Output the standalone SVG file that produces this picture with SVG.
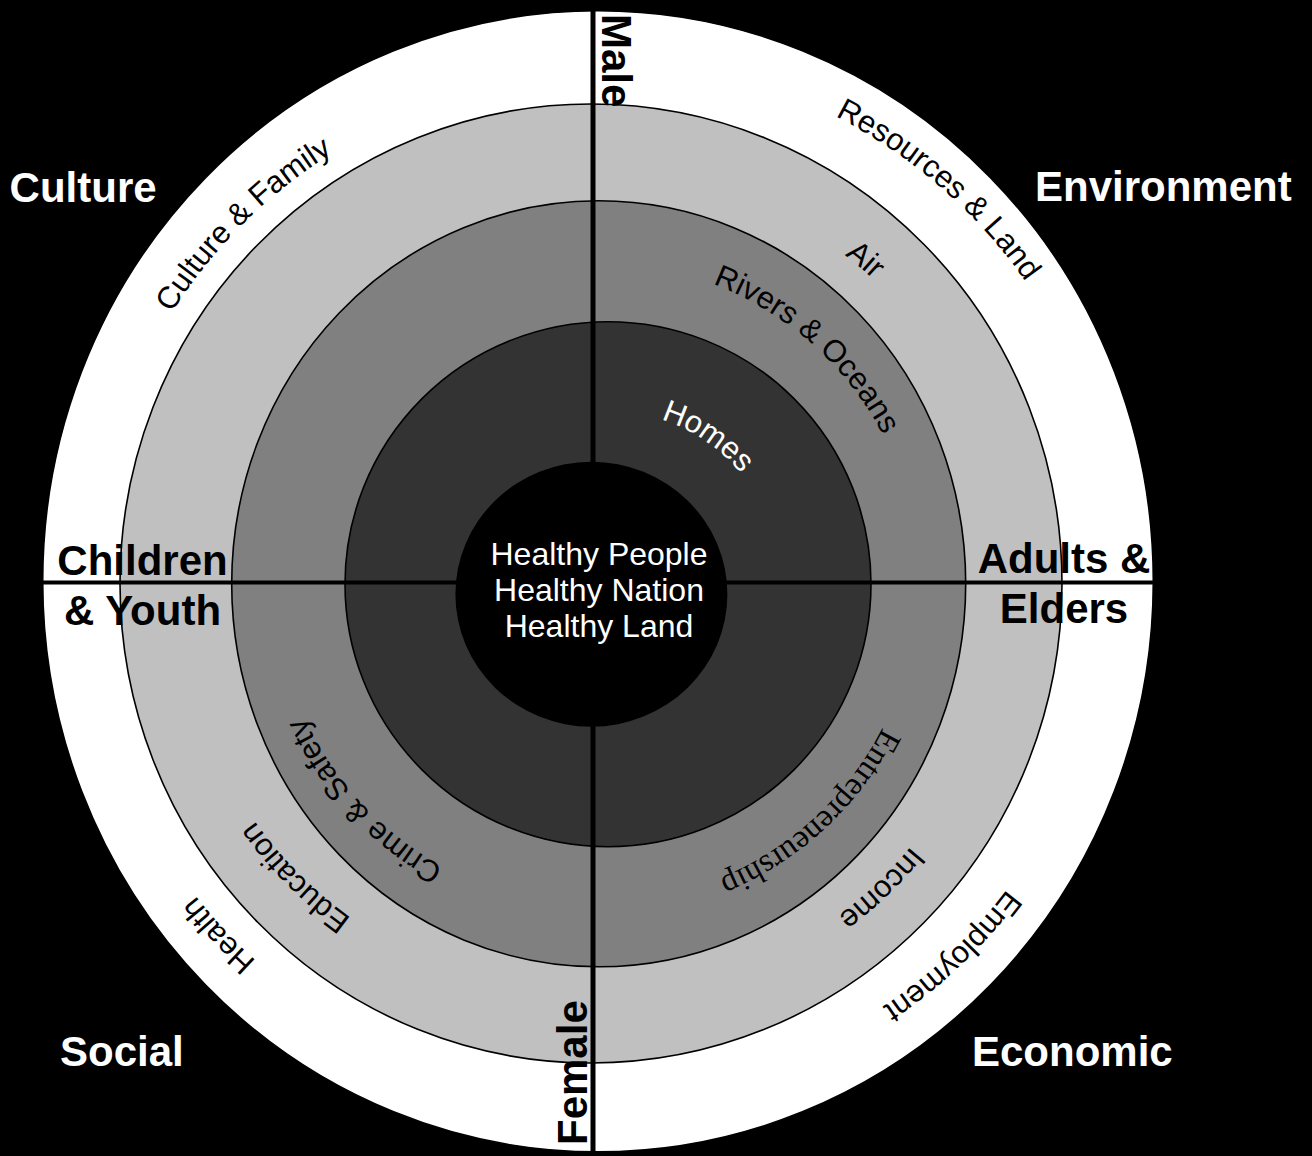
<svg xmlns="http://www.w3.org/2000/svg" width="1312" height="1156" viewBox="0 0 1312 1156">
<style>
.ring{stroke:#000;stroke-width:1.6}
.axis{stroke:#000;fill:none}
.bold{font-family:"Liberation Sans",Arial,sans-serif;font-weight:bold;font-size:42px;fill:#000}
.quad{font-family:"Liberation Sans",Arial,sans-serif;font-weight:bold;font-size:42px;fill:#fff}
.arc{font-family:"Liberation Sans",Arial,sans-serif;font-size:31px;fill:#000;text-anchor:middle}
.serif{font-family:"Liberation Serif","Times New Roman",serif;font-size:33px;fill:#000;text-anchor:middle}
.core{font-family:"Liberation Sans",Arial,sans-serif;font-size:32px;fill:#fff;text-anchor:middle}
</style>
<defs>
<!-- clockwise arcs centred on the top of a circle; rotated into place per label -->
<path id="a504" d="M-496.3,-87.5 A504,504 0 0 1 496.3,-87.5"/>
<path id="a522" d="M-514.1,-90.6 A522,522 0 0 1 514.1,-90.6"/>
<path id="a415" d="M-408.7,-72 A415,415 0 0 1 408.7,-72"/>
<path id="a321" d="M-316.1,-55.7 A321,321 0 0 1 316.1,-55.7"/>
<path id="a173" d="M-170.4,-30 A173,173 0 0 1 170.4,-30"/>
<path id="a318" d="M-313.2,-55.2 A318,318 0 0 1 313.2,-55.2"/>
<path id="a414" d="M-407.7,-71.9 A414,414 0 0 1 407.7,-71.9"/>
<path id="a512" d="M-504.2,-88.9 A512,512 0 0 1 504.2,-88.9"/>
<path id="a323" d="M-318.1,-56.1 A323,323 0 0 1 318.1,-56.1"/>
<path id="a412" d="M-405.7,-71.5 A412,412 0 0 1 405.7,-71.5"/>
<path id="a511" d="M-503.2,-88.7 A511,511 0 0 1 503.2,-88.7"/>
</defs>

<rect width="1312" height="1156" fill="#000"/>

<!-- concentric rings -->
<g id="ring-outer"><ellipse class="ring" cx="598" cy="581.3" rx="555.3" ry="570.6" fill="#fff"/></g>
<g id="ring-light"><ellipse class="ring" cx="591" cy="583.5" rx="471" ry="479.5" fill="#c0c0c0"/></g>
<g id="ring-medium"><ellipse class="ring" cx="598.7" cy="583.8" rx="367" ry="383" fill="#808080"/></g>
<g id="ring-dark"><ellipse class="ring" cx="608" cy="584.2" rx="263" ry="262.5" fill="#333"/></g>

<!-- dividing axes -->
<g id="connectors">
<line class="axis" x1="593" y1="10" x2="593" y2="1156" stroke-width="5"/>
<line class="axis" x1="42" y1="582.5" x2="1153" y2="582.5" stroke-width="4"/>
</g>

<g id="core">
<ellipse cx="591.4" cy="594.2" rx="136" ry="132.5" fill="#000"/>
<text class="core" x="599" y="565">Healthy People</text>
<text class="core" x="599" y="600.7">Healthy Nation</text>
<text class="core" x="599" y="636.7">Healthy Land</text>
</g>

<!-- axis labels -->
<g id="label-male"><text class="bold" transform="translate(602,14) rotate(90)">Male</text></g>
<g id="label-female"><text class="bold" transform="translate(587,1145) rotate(-90)">Female</text></g>
<g id="label-children"><text class="bold" text-anchor="middle"><tspan x="142.5" y="575">Children</tspan><tspan x="142.5" y="625">&amp; Youth</tspan></text></g>
<g id="label-adults"><text class="bold" text-anchor="middle"><tspan x="1064" y="573.3">Adults &amp;</tspan><tspan x="1064" y="623.3">Elders</tspan></text></g>

<!-- quadrant titles -->
<g id="quad-culture"><text class="quad" x="9.6" y="201.7">Culture</text></g>
<g id="quad-environment"><text class="quad" x="1035" y="201">Environment</text></g>
<g id="quad-social"><text class="quad" x="60" y="1066">Social</text></g>
<g id="quad-economic"><text class="quad" x="972" y="1066">Economic</text></g>

<!-- ring labels -->
<g id="lbl-culture-family" transform="translate(598,581.3) rotate(-44.8)"><text class="arc"><textPath href="#a504" startOffset="50%">Culture &amp; Family</textPath></text></g>
<g id="lbl-resources" transform="translate(598,581.3) rotate(41)"><text class="arc"><textPath href="#a522" startOffset="50%">Resources &amp; Land</textPath></text></g>
<g id="lbl-air" transform="translate(591,583.5) rotate(40.3)"><text class="arc"><textPath href="#a415" startOffset="50%">Air</textPath></text></g>
<g id="lbl-rivers" transform="translate(598.7,583.8) rotate(41.6)"><text class="arc"><textPath href="#a321" startOffset="50%">Rivers &amp; Oceans</textPath></text></g>
<g id="lbl-homes" transform="translate(608,584.2) rotate(34)"><text class="arc" style="fill:#fff"><textPath href="#a173" startOffset="50%">Homes</textPath></text></g>
<g id="lbl-entrepreneurship" transform="translate(598.7,583.8) rotate(137.3)"><text class="serif"><textPath href="#a318" startOffset="50%">Entrepreneurship</textPath></text></g>
<g id="lbl-income" transform="translate(591,583.5) rotate(136.4)"><text class="arc"><textPath href="#a414" startOffset="50%">Income</textPath></text></g>
<g id="lbl-employment" transform="translate(598,581.3) rotate(136.6)"><text class="arc"><textPath href="#a512" startOffset="50%">Employment</textPath></text></g>
<g id="lbl-crime" transform="translate(598.7,583.8) rotate(227.2)"><text class="arc"><textPath href="#a323" startOffset="50%">Crime &amp; Safety</textPath></text></g>
<g id="lbl-education" transform="translate(591,583.5) rotate(225.2)"><text class="arc"><textPath href="#a412" startOffset="50%">Education</textPath></text></g>
<g id="lbl-health" transform="translate(598,581.3) rotate(227)"><text class="arc"><textPath href="#a511" startOffset="50%">Health</textPath></text></g>
</svg>
